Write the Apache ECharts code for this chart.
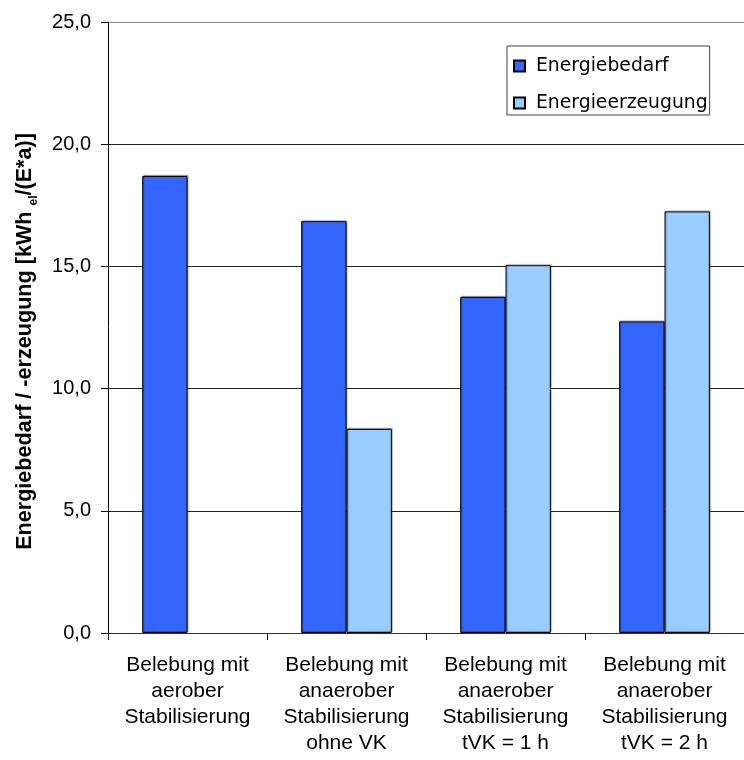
<!DOCTYPE html>
<html>
<head>
<meta charset="utf-8">
<script src="https://cdn.jsdelivr.net/npm/echarts@6/dist/echarts.min.js"></script>
<style>
  html, body { margin: 0; padding: 0; background: #fff; }
  #chart { width: 744px; height: 760px; }
</style>
</head>
<body>
<div id="chart"></div>
<script>
// Scenarios compared (x-axis categories)
const categories = [
  'Belebung mit\naerober\nStabilisierung',
  'Belebung mit\nanaerober\nStabilisierung\nohne VK',
  'Belebung mit\nanaerober\nStabilisierung\ntVK = 1 h',
  'Belebung mit\nanaerober\nStabilisierung\ntVK = 2 h'
];
const seriesNames = ['Energiebedarf', 'Energieerzeugung'];
// kWh_el per inhabitant and year
const energiebedarf = [18.7, 16.85, 13.75, 12.75];
const energieerzeugung = [null, 8.35, 15.05, 17.25];
const yTicks = [0, 5, 10, 15, 20, 25];

const chart = echarts.init(document.getElementById('chart'), null, { renderer: 'canvas' });
const font = 'Arial, "Liberation Sans", sans-serif';

const barStyle = (color) => ({
  color: color,
  borderColor: '#000',
  borderWidth: 1,
  shadowColor: 'rgba(0,0,0,0.35)',
  shadowBlur: 1,
  shadowOffsetX: 1,
  shadowOffsetY: -1
});

chart.setOption({
  animation: false,
  backgroundColor: '#fff',
  textStyle: { fontFamily: font },
  grid: { left: 108, top: 22, width: 644, height: 611, containLabel: false },
  legend: {
    orient: 'vertical',
    left: 507,
    top: 46,
    data: seriesNames,
    icon: 'rect',
    itemWidth: 11,
    itemHeight: 11,
    itemGap: 15,
    padding: [9, 2, 1, 6],
    borderColor: '#444',
    borderWidth: 1,
    backgroundColor: '#fff',
    textStyle: {
      fontSize: 18.8, lineHeight: 22, color: '#000',
      fontFamily: '"DejaVu Sans", Arial, sans-serif', padding: [0, 0, 0, 6]
    }
  },
  xAxis: {
    type: 'category',
    data: categories,
    axisLine: { lineStyle: { color: '#333', width: 1 } },
    axisTick: { show: true, length: 7, lineStyle: { color: '#000' } },
    axisLabel: { color: '#000', fontSize: 21, lineHeight: 26, margin: 19, interval: 0, fontFamily: font },
    splitLine: { show: false }
  },
  yAxis: {
    type: 'value',
    min: yTicks[0],
    max: yTicks[yTicks.length - 1],
    interval: 5,
    axisLine: { show: true, lineStyle: { color: '#000', width: 1 } },
    axisTick: { show: true, length: 7, inside: false, lineStyle: { color: '#000' } },
    axisLabel: {
      color: '#000', fontSize: 20, margin: 17, fontFamily: font,
      formatter: (v) => v.toFixed(1).replace('.', ',')
    },
    splitLine: {
      show: true,
      lineStyle: { color: ['#222', '#222', '#222', '#222', '#222', '#888'], width: 1 }
    },
    name: '{b|Energiebedarf / -erzeugung [kWh }{s|el}{b|/(E*a)]}',
    nameLocation: 'middle',
    nameGap: 72,
    nameRotate: 90,
    nameTextStyle: {
      padding: [0, 28, 0, 0],
      rich: {
        b: { fontSize: 21.6, fontWeight: 'bold', color: '#000', fontFamily: font, lineHeight: 26, verticalAlign: 'bottom' },
        s: { fontSize: 12, fontWeight: 'bold', color: '#000', fontFamily: font, lineHeight: 26, verticalAlign: 'bottom', padding: [0, 0, -4, 0] }
      }
    }
  },
  series: [
    {
      name: seriesNames[0],
      type: 'bar',
      data: energiebedarf,
      barGap: '0%',
      barCategoryGap: '43%',
      itemStyle: barStyle('#3366FF')
    },
    {
      name: seriesNames[1],
      type: 'bar',
      data: energieerzeugung,
      barGap: '0%',
      barCategoryGap: '43%',
      itemStyle: barStyle('#99CCFF')
    }
  ]
});
</script>
</body>
</html>
